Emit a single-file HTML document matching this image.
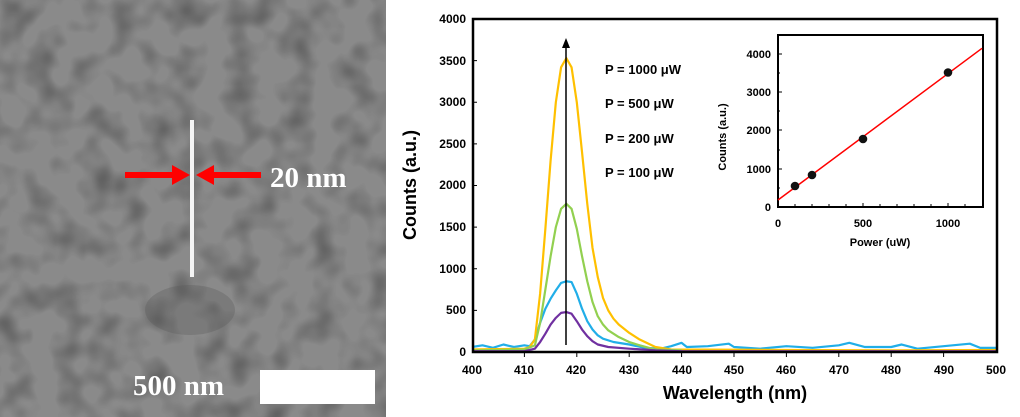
<!DOCTYPE html>
<html><head><meta charset="utf-8"><style>
body{margin:0;background:#fff;width:1020px;height:417px;overflow:hidden}
svg{display:block}
</style></head><body>
<svg width="1020" height="417" xmlns="http://www.w3.org/2000/svg" font-family="Liberation Sans, sans-serif">
<defs>
<filter id="sem" x="0" y="0" width="100%" height="100%">
<feTurbulence type="fractalNoise" baseFrequency="0.035" numOctaves="2" seed="4"/>
<feColorMatrix type="matrix" values="0 0 0 0 0  0 0 0 0 0  0 0 0 0 0  0 0 0 -2.2 1.25"/>
</filter>
</defs>
<rect x="0" y="0" width="386" height="417" fill="#8a8a8a"/>
<rect x="0" y="0" width="386" height="417" fill="#000" filter="url(#sem)" opacity="0.3"/>
<ellipse cx="190" cy="310" rx="45" ry="25" fill="#555" opacity="0.3"/>
<rect x="190" y="120" width="4" height="157" fill="#f4f4f4"/>
<line x1="125" y1="175" x2="178" y2="175" stroke="#f00" stroke-width="6"/>
<polygon points="190,175 172,165 172,185" fill="#f00"/>
<line x1="208" y1="175" x2="261" y2="175" stroke="#f00" stroke-width="6"/>
<polygon points="196,175 214,165 214,185" fill="#f00"/>
<text x="270" y="187" font-family="Liberation Serif, serif" font-weight="bold" font-size="29" fill="#fff">20 nm</text>
<rect x="260" y="370" width="115" height="34" fill="#fff"/>
<text x="133" y="395" font-family="Liberation Serif, serif" font-weight="bold" font-size="29" fill="#fff">500 nm</text>

<g font-weight="bold" font-size="12" fill="#000">
<g text-anchor="end">
<text x="466" y="356">0</text><text x="466" y="314">500</text><text x="466" y="273">1000</text><text x="466" y="231">1500</text><text x="466" y="189">2000</text><text x="466" y="148">2500</text><text x="466" y="106">3000</text><text x="466" y="65">3500</text><text x="466" y="23">4000</text>
</g>
<g text-anchor="middle">
<text x="472" y="374">400</text><text x="524" y="374">410</text><text x="576" y="374">420</text><text x="629" y="374">430</text><text x="682" y="374">440</text><text x="734" y="374">450</text><text x="786" y="374">460</text><text x="839" y="374">470</text><text x="891" y="374">480</text><text x="944" y="374">490</text><text x="996" y="374">500</text>
</g>
<text x="735" y="399" text-anchor="middle" font-size="18">Wavelength (nm)</text>
<text transform="translate(416,185) rotate(-90)" text-anchor="middle" font-size="18">Counts (a.u.)</text>
<text x="605" y="74" font-size="13">P = 1000 μW</text>
<text x="605" y="108" font-size="13">P = 500 μW</text>
<text x="605" y="143" font-size="13">P = 200 μW</text>
<text x="605" y="177" font-size="13">P = 100 μW</text>
</g>
<g transform="translate(472,352) scale(5.24,-0.08325) translate(-400,0)" fill="none" stroke-width="2.2" stroke-linejoin="round">
<path vector-effect="non-scaling-stroke" stroke="#21aee8" d="M400,60 L402,80 404,50 406,90 408,60 410,80 411,70 412,150 413,350 414,520 415,640 416,740 417,830 418,850 419,840 420,700 421,520 422,370 423,270 424,200 425,160 427,120 430,90 433,50 436,40 438,70 440,110 441,60 445,70 449,100 450,60 455,40 460,70 465,50 470,80 472,110 475,60 480,60 482,90 485,40 490,70 495,100 497,50 500,50"/>
<path vector-effect="non-scaling-stroke" stroke="#ffc000" d="M400,30 L405,35 410,40 411,60 412,150 413,700 414,1480 415,2300 416,3000 417,3420 418,3530 419,3420 420,3000 421,2400 422,1780 423,1250 424,900 425,650 426,500 427,400 428,330 430,230 432,150 435,60 438,30 460,25 480,20 500,25"/>
<path vector-effect="non-scaling-stroke" stroke="#92d050" d="M400,20 L405,25 410,30 412,80 413,350 414,750 415,1150 416,1500 417,1720 418,1780 419,1720 420,1480 421,1150 422,850 423,600 424,430 425,330 426,260 428,180 430,120 432,80 435,30 440,20"/>
<path vector-effect="non-scaling-stroke" stroke="#7030a0" d="M400,10 L410,10 412,40 413,120 414,220 415,330 416,410 417,470 418,480 419,460 420,370 421,270 422,190 423,130 424,90 426,60 430,40 435,20 440,10 500,10"/>
</g>
<line x1="566" y1="345" x2="566" y2="46" stroke="#000" stroke-width="1.5"/>
<polygon points="566,38 562,48 570,48" fill="#000"/>
<rect x="473" y="19" width="524" height="333" fill="none" stroke="#000" stroke-width="2.5"/>
<g stroke="#000" stroke-width="1">
<path d="M473,310.4h4M473,268.8h4M473,227.1h4M473,185.5h4M473,143.9h4M473,102.3h4M473,60.6h4"/>
<path d="M524.4,352v5M576.8,352v5M629.2,352v5M681.6,352v5M734,352v5M786.4,352v5M838.8,352v5M891.2,352v5M943.6,352v5"/>
</g>

<rect x="778" y="35" width="205" height="172" fill="#fff" stroke="#000" stroke-width="2"/>
<g stroke="#000" stroke-width="1">
<path d="M778,54h4M778,92h4M778,130h4M778,169h4M778,73h2M778,111h2M778,150h2M778,188h2"/>
<path d="M795,207v-3M812,207v-3M829,207v-3M846,207v-3M863,207v-4M880,207v-3M897,207v-3M914,207v-3M931,207v-3M948,207v-4M965,207v-3"/>
</g>
<line x1="778" y1="200" x2="982" y2="48.3" stroke="#f00" stroke-width="1.5"/>
<g fill="#111"><circle cx="795" cy="186" r="4.3"/><circle cx="812" cy="175" r="4.3"/><circle cx="863" cy="139" r="4.3"/><circle cx="948" cy="72.5" r="4.3"/></g>
<g font-weight="bold" font-size="11" fill="#000">
<g text-anchor="end"><text x="771" y="58">4000</text><text x="771" y="96">3000</text><text x="771" y="134">2000</text><text x="771" y="173">1000</text><text x="771" y="211">0</text></g>
<g text-anchor="middle"><text x="778" y="227">0</text><text x="863" y="227">500</text><text x="948" y="227">1000</text>
<text x="880" y="246">Power (uW)</text></g>
<text transform="translate(726,137) rotate(-90)" text-anchor="middle">Counts (a.u.)</text>
</g>
</svg>
</body></html>
